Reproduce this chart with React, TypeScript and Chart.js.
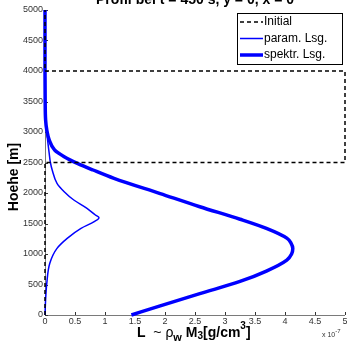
import React, { useEffect, useRef } from "react";
import { Chart, registerables } from "chart.js";

Chart.register(...registerables);

// Heights [m] and values [x 1e-7] of the spectral solution
const spektrHeights = [0, 150, 350, 550, 720, 900, 1000, 1090, 1180, 1260, 1420, 1570, 1775, 1990, 2240, 2377, 2486, 2596, 2705, 2870, 3030, 3200, 3500, 4000, 5000];
const spektrValues = [1.44, 1.92, 2.58, 3.25, 3.69, 4.03, 4.11, 4.13, 4.1, 4.03, 3.69, 3.25, 2.58, 1.92, 1.15, 0.8, 0.54, 0.32, 0.16, 0.07, 0.03, 0.01, 0.003, 0, 0];

// Heights [m] and values [x 1e-7] of the parametrised solution
const paramHeights = [0, 250, 520, 850, 1093, 1257, 1421, 1530, 1595, 1639, 1749, 1885, 2022, 2159, 2377, 2500, 2650, 2810, 3087, 3300, 5000];
const paramValues = [0, 0.01, 0.03, 0.08, 0.2, 0.37, 0.6, 0.82, 0.9, 0.84, 0.7, 0.48, 0.32, 0.2, 0.12, 0.09, 0.07, 0.05, 0.02, 0.005, 0];

// Initial box profile
const initialHeights = [0, 2500, 2500, 4000, 4000, 5000];
const initialValues = [0, 0, 5, 5, 0, 0];

const xTicks = [0, 0.5, 1, 1.5, 2, 2.5, 3, 3.5, 4, 4.5, 5];
const yTicks = [0, 500, 1000, 1500, 2000, 2500, 3000, 3500, 4000, 4500, 5000];

const legendLabels = ["Initial", "param. Lsg.", "spektr. Lsg."];
const titleText = "Profil bei t = 450 s, y = 0, x = 0";
const yTitle = "Hoehe [m]";

const FONT = "'Liberation Sans', Arial, sans-serif";

const toPoints = (hs: number[], vs: number[]) => hs.map((h, i) => ({ x: vs[i], y: h }));

const axesPlugin = {
  id: "matlabAxes",
  beforeDatasetsDraw(chart: any) {
    const { ctx, chartArea, scales } = chart;
    const xs = scales.x;
    const ys = scales.y;
    ctx.save();
    ctx.strokeStyle = "#7a7a7a";
    ctx.lineWidth = 1;
    ctx.beginPath();
    ctx.moveTo(chartArea.left + 0.5, chartArea.top);
    ctx.lineTo(chartArea.left + 0.5, chartArea.bottom + 0.5);
    ctx.lineTo(chartArea.right, chartArea.bottom + 0.5);
    ctx.stroke();
    ctx.strokeStyle = "#333";
    ctx.beginPath();
    xTicks.forEach((t) => {
      const px = Math.round(xs.getPixelForValue(t)) + 0.5;
      ctx.moveTo(px, chartArea.bottom);
      ctx.lineTo(px, chartArea.bottom - 3);
    });
    yTicks.forEach((t) => {
      const py = Math.round(ys.getPixelForValue(t)) + 0.5;
      ctx.moveTo(chartArea.left, py);
      ctx.lineTo(chartArea.left + 3, py);
    });
    ctx.stroke();

    ctx.fillStyle = "#333";
    ctx.font = `9px ${FONT}`;
    ctx.textAlign = "center";
    ctx.textBaseline = "top";
    xTicks.forEach((t) => {
      ctx.fillText(String(t), xs.getPixelForValue(t), chartArea.bottom + 2);
    });
    ctx.textAlign = "right";
    ctx.textBaseline = "middle";
    yTicks.forEach((t) => {
      ctx.fillText(String(t), chartArea.left - 2, ys.getPixelForValue(t));
    });
    ctx.restore();
  },
  afterDraw(chart: any) {
    const { ctx, chartArea } = chart;
    ctx.save();
    ctx.fillStyle = "#000";

    // title (runs off the top edge)
    ctx.font = `bold 14px ${FONT}`;
    ctx.textAlign = "center";
    ctx.textBaseline = "alphabetic";
    ctx.fillText(titleText, (chartArea.left + chartArea.right) / 2, 4);

    // y axis title
    ctx.save();
    ctx.translate(14, 177);
    ctx.rotate(-Math.PI / 2);
    ctx.font = `bold 14px ${FONT}`;
    ctx.textAlign = "center";
    ctx.textBaseline = "middle";
    ctx.fillText(yTitle, 0, 0);
    ctx.restore();

    // x axis title with sub/superscripts
    const parts = [
      { t: "L", f: `bold 14px ${FONT}`, dy: 0 },
      { t: "  ~ ", f: `14px ${FONT}`, dy: 0 },
      { t: "ρ", f: `14px ${FONT}`, dy: 0 },
      { t: "w", f: `bold 11px ${FONT}`, dy: 4 },
      { t: " M", f: `bold 14px ${FONT}`, dy: 0 },
      { t: "3", f: `bold 10px ${FONT}`, dy: 2 },
      { t: "[g/cm", f: `bold 14px ${FONT}`, dy: 0 },
      { t: "3", f: `bold 10px ${FONT}`, dy: -8 },
      { t: "]", f: `bold 14px ${FONT}`, dy: 0 },
    ];
    let tx = 137;
    const base = 337;
    ctx.textAlign = "left";
    ctx.textBaseline = "alphabetic";
    parts.forEach((p) => {
      ctx.font = p.f;
      ctx.fillText(p.t, tx, base + p.dy);
      tx += ctx.measureText(p.t).width;
    });

    // exponent label
    ctx.fillStyle = "#333";
    ctx.font = `7px ${FONT}`;
    ctx.fillText("x 10", 322, 337);
    const w = ctx.measureText("x 10").width;
    ctx.font = `6px ${FONT}`;
    ctx.fillText("-7", 322 + w, 333);

    // legend
    const lx = 237.5, ly = 13.5, lw = 105, lh = 51;
    ctx.fillStyle = "#fff";
    ctx.fillRect(lx, ly, lw, lh);
    ctx.strokeStyle = "#000";
    ctx.lineWidth = 1;
    ctx.strokeRect(lx, ly, lw, lh);
    const rows = [
      { c: "#000", w: 1.5, d: [4, 3] },
      { c: "#0000ff", w: 1.5, d: [] },
      { c: "#0000ff", w: 3.5, d: [] },
    ];
    ctx.font = `12px ${FONT}`;
    ctx.textBaseline = "middle";
    rows.forEach((r, i) => {
      const yy = 22 + i * 16.5;
      ctx.strokeStyle = r.c;
      ctx.lineWidth = r.w;
      ctx.setLineDash(r.d);
      ctx.beginPath();
      ctx.moveTo(240, yy);
      ctx.lineTo(263, yy);
      ctx.stroke();
      ctx.setLineDash([]);
      ctx.fillStyle = "#000";
      ctx.fillText(legendLabels[i], 264, yy);
    });
    ctx.restore();
  },
};

export default function App() {
  const canvasRef = useRef<HTMLCanvasElement | null>(null);

  useEffect(() => {
    document.body.style.margin = "0";
    const canvas = canvasRef.current;
    if (!canvas) return;
    const zeroWidth = (s: any) => { s.width = 0; };
    const zeroHeight = (s: any) => { s.height = 0; };
    const chart = new Chart(canvas, {
      type: "scatter",
      data: {
        datasets: [
          {
            label: legendLabels[0],
            data: toPoints(initialHeights, initialValues),
            showLine: true,
            borderColor: "#000",
            borderWidth: 1.5,
            borderDash: [4, 3],
            pointRadius: 0,
            tension: 0,
            clip: 6,
          },
          {
            label: legendLabels[1],
            data: toPoints(paramHeights, paramValues),
            showLine: true,
            borderColor: "#0000ff",
            borderWidth: 1.5,
            pointRadius: 0,
            cubicInterpolationMode: "monotone",
            clip: 6,
          },
          {
            label: legendLabels[2],
            data: toPoints(spektrHeights, spektrValues),
            showLine: true,
            borderColor: "#0000ff",
            borderWidth: 3.5,
            pointRadius: 0,
            cubicInterpolationMode: "monotone",
            clip: 6,
          },
        ] as any,
      },
      options: {
        indexAxis: "y",
        animation: false,
        responsive: false,
        maintainAspectRatio: false,
        layout: { padding: { left: 45, right: 2, top: 10, bottom: 28 } },
        plugins: { legend: { display: false }, title: { display: false }, tooltip: { enabled: false } },
        scales: {
          x: {
            type: "linear",
            min: 0,
            max: 5,
            grid: { display: false, drawTicks: false },
            border: { display: false },
            ticks: { display: false, padding: 0 },
            afterFit: zeroHeight,
          },
          y: {
            type: "linear",
            min: 0,
            max: 5000,
            grid: { display: false, drawTicks: false },
            border: { display: false },
            ticks: { display: false, padding: 0 },
            afterFit: zeroWidth,
          },
        },
      } as any,
      plugins: [axesPlugin],
    });
    return () => chart.destroy();
  }, []);

  return (
    <div style={{ position: "fixed", left: 0, top: 0, width: 347, height: 343, background: "#fff" }}>
      <canvas ref={canvasRef} width={347} height={343} style={{ width: 347, height: 343 }} />
    </div>
  );
}
